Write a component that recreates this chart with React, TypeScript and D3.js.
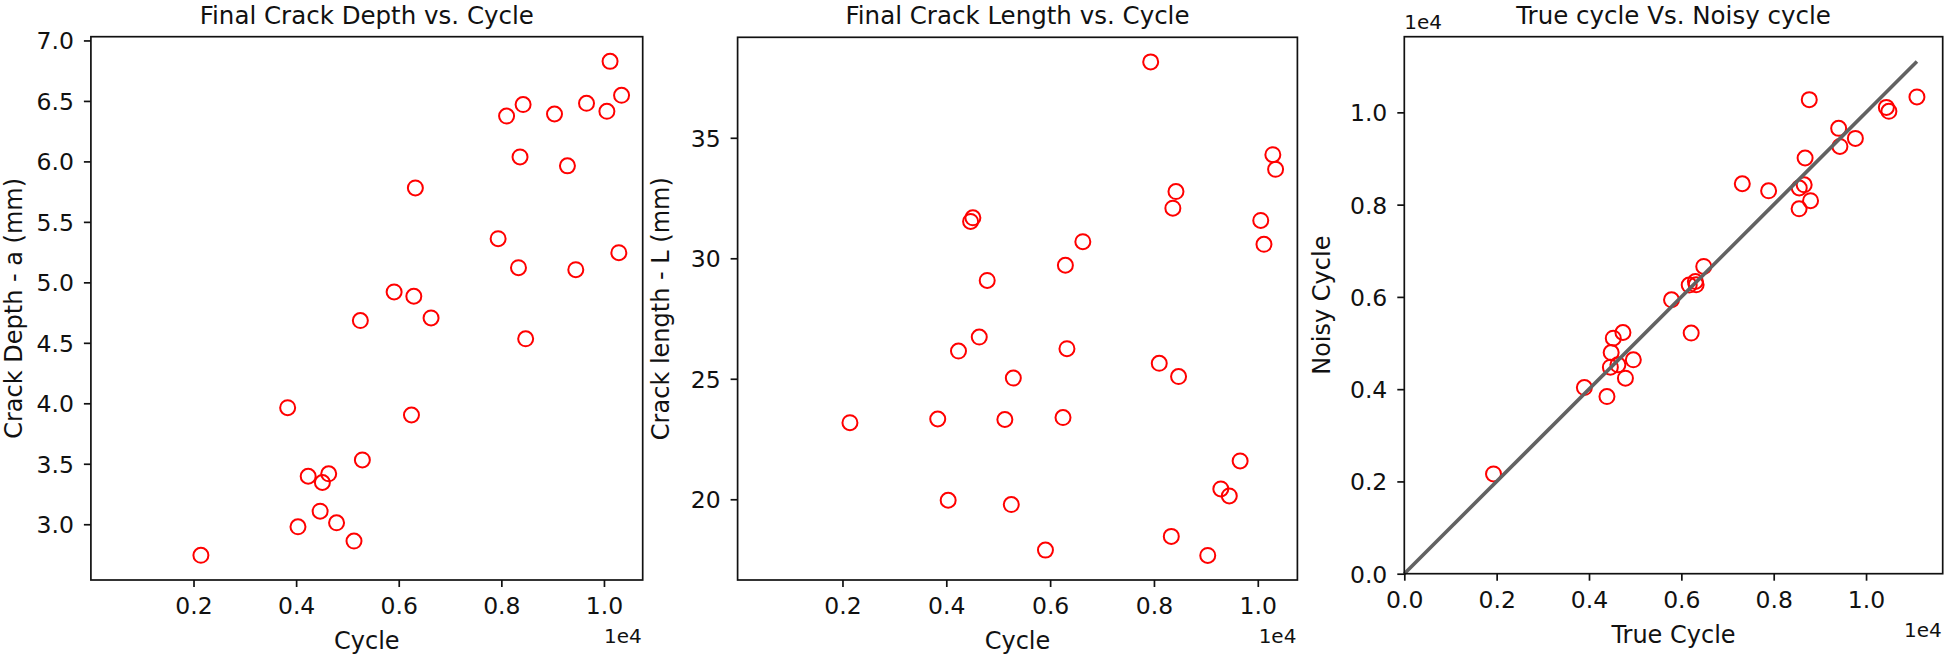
import React, { useEffect, useRef } from "react";
import { select, scaleLinear, axisBottom, axisLeft, format, max } from "d3";

// cycle counts shared by the depth and length panels
const cycles = [
  2144, 3835, 4036, 4235, 4468, 4512, 4635, 4788, 5128, 5252, 5291, 5910, 6248, 6294, 6324,
  6630, 7937, 8102, 8334, 8364, 8424, 8474, 9036, 9288, 9451, 9660, 10057, 10119, 10290, 10343
];
const crackDepth = [
  2.743, 3.964, 2.979, 3.397, 3.108, 3.345, 3.417, 3.012, 2.861, 4.684, 3.532, 4.921, 3.903, 4.885, 5.781,
  4.706, 5.361, 6.375, 5.121, 6.037, 6.47, 4.533, 6.392, 5.963, 5.105, 6.48, 6.414, 6.827, 5.245, 6.546
];
const crackLength = [
  23.18, 23.33, 19.96, 26.15, 31.53, 31.68, 26.73, 29.08, 23.31, 19.78, 25.03, 17.89, 23.39, 29.71, 26.25,
  30.69, 38.15, 25.64, 18.46, 32.08, 32.77, 25.09, 17.67, 20.43, 20.14, 21.59, 31.57, 30.58, 34.3, 33.69
];

// true vs noisy cycle
const trueCycles = [
  1932, 3900, 4389, 4463, 4480, 4526, 4626, 4735, 4789, 4960, 5787, 6170, 6213, 6304, 6320,
  6485, 7320, 7890, 8550, 8553, 8660, 8680, 8770, 8798, 9407, 9434, 9769, 10440, 10495, 11102
];
const noisyCycles = [
  2163, 4035, 3840, 4477, 4794, 5106, 4527, 5228, 4238, 4636, 5937, 6256, 5215, 6334, 6262,
  6660, 8453, 8300, 7910, 8360, 8430, 9011, 10276, 8085, 9653, 9262, 9436, 10108, 10022, 10334
];

const depthTicks = [3.0, 3.5, 4.0, 4.5, 5.0, 5.5, 6.0, 6.5, 7.0];
const lengthTicks = [20, 25, 30, 35];
const cycleTicks = [2000, 4000, 6000, 8000, 10000];
const compareTicks = [0, 2000, 4000, 6000, 8000, 10000];

const FONT = "DejaVu Sans, sans-serif";
const TICK_FS = 23.5;

function Panel({ box, xs, ys, xDomain, yDomain, xTicks, yTicks, yFormat, title, xLabel, yLabel, yLabelX, yOffset, diagonal }) {
  const gRef = useRef(null);

  useEffect(() => {
    const g = select(gRef.current);
    g.selectAll("*").remove();

    const x = scaleLinear().domain(xDomain).range([box.left, box.right]);
    const y = scaleLinear().domain(yDomain).range([box.bottom, box.top]);
    const sci = format(".1f");

    // markers
    g.append("g")
      .selectAll("circle")
      .data(xs.map((d, i) => [d, ys[i]]))
      .join("circle")
      .attr("cx", (d) => x(d[0]))
      .attr("cy", (d) => y(d[1]))
      .attr("r", 7.5)
      .attr("fill", "none")
      .attr("stroke", "#ff0000")
      .attr("stroke-width", 2);

    if (diagonal) {
      const m = max(xs);
      g.append("line")
        .attr("x1", x(0))
        .attr("y1", y(0))
        .attr("x2", x(m))
        .attr("y2", y(m))
        .attr("stroke", "#626262")
        .attr("stroke-width", 3.6);
    }

    // axes
    const xa = g.append("g")
      .attr("transform", `translate(0,${box.bottom})`)
      .call(axisBottom(x).tickValues(xTicks).tickFormat((d) => sci(d / 1e4)).tickSize(7).tickPadding(10.3));
    const ya = g.append("g")
      .attr("transform", `translate(${box.left},0)`)
      .call(axisLeft(y).tickValues(yTicks).tickFormat(yFormat).tickSize(7).tickPadding(10));

    [xa, ya].forEach((a) => {
      a.attr("font-family", FONT).attr("font-size", TICK_FS);
      a.select(".domain").remove();
      a.selectAll("line").attr("stroke", "#111").attr("stroke-width", 1.7);
      a.selectAll("text").attr("fill", "#111");
    });
    ya.selectAll("text").attr("dy", "0.36em");

    // frame
    g.append("rect")
      .attr("x", box.left)
      .attr("y", box.top)
      .attr("width", box.right - box.left)
      .attr("height", box.bottom - box.top)
      .attr("fill", "none")
      .attr("stroke", "#111")
      .attr("stroke-width", 1.7);
  }, [box, xs, ys, xDomain, yDomain, xTicks, yTicks, yFormat, diagonal]);

  const cx = (box.left + box.right) / 2;
  const cy = (box.top + box.bottom) / 2;
  return (
    <g fontFamily={FONT} fill="#111">
      <g ref={gRef} />
      <text x={cx} y={24} fontSize={24.5} textAnchor="middle">{title}</text>
      <text x={cx} y={box.bottom + 69} fontSize={24} textAnchor="middle">{xLabel}</text>
      <text transform={`translate(${yLabelX},${cy}) rotate(-90)`} fontSize={24} textAnchor="middle">{yLabel}</text>
      <text x={box.right - 1} y={box.bottom + 63} fontSize={20} textAnchor="end">1e4</text>
      {yOffset && <text x={box.left} y={box.top - 7.4} fontSize={20}>1e4</text>}
    </g>
  );
}

const box1 = { left: 90.9, right: 642.7, top: 36.7, bottom: 580 };
const box2 = { left: 737.6, right: 1297.4, top: 37.3, bottom: 580 };
const box3 = { left: 1404.3, right: 1942.7, top: 36.7, bottom: 573.7 };
const fmt1 = format(".1f");
const fmt0 = format("d");
const fmtE4 = (d) => format(".1f")(d / 1e4);

export default function App() {
  return (
    <svg width={1946} height={661} style={{ position: "absolute", left: 0, top: 0, background: "#fff" }}>
      <Panel
        box={box1} xs={cycles} ys={crackDepth}
        xDomain={[0, 10755]} yDomain={[2.539, 7.031]}
        xTicks={cycleTicks} yTicks={depthTicks} yFormat={fmt1}
        title="Final Crack Depth vs. Cycle" xLabel="Cycle" yLabel="Crack Depth - a (mm)" yLabelX={22.3}
      />
      <Panel
        box={box2} xs={cycles} ys={crackLength}
        xDomain={[-20, 10763]} yDomain={[16.65, 39.17]}
        xTicks={cycleTicks} yTicks={lengthTicks} yFormat={fmt0}
        title="Final Crack Length vs. Cycle" xLabel="Cycle" yLabel="Crack length - L (mm)" yLabelX={668.6}
      />
      <Panel
        box={box3} xs={trueCycles} ys={noisyCycles}
        xDomain={[0, 11660]} yDomain={[0, 11640]}
        xTicks={compareTicks} yTicks={compareTicks} yFormat={fmtE4}
        title="True cycle Vs. Noisy cycle" xLabel="True Cycle" yLabel="Noisy Cycle" yLabelX={1330}
        yOffset diagonal
      />
    </svg>
  );
}
